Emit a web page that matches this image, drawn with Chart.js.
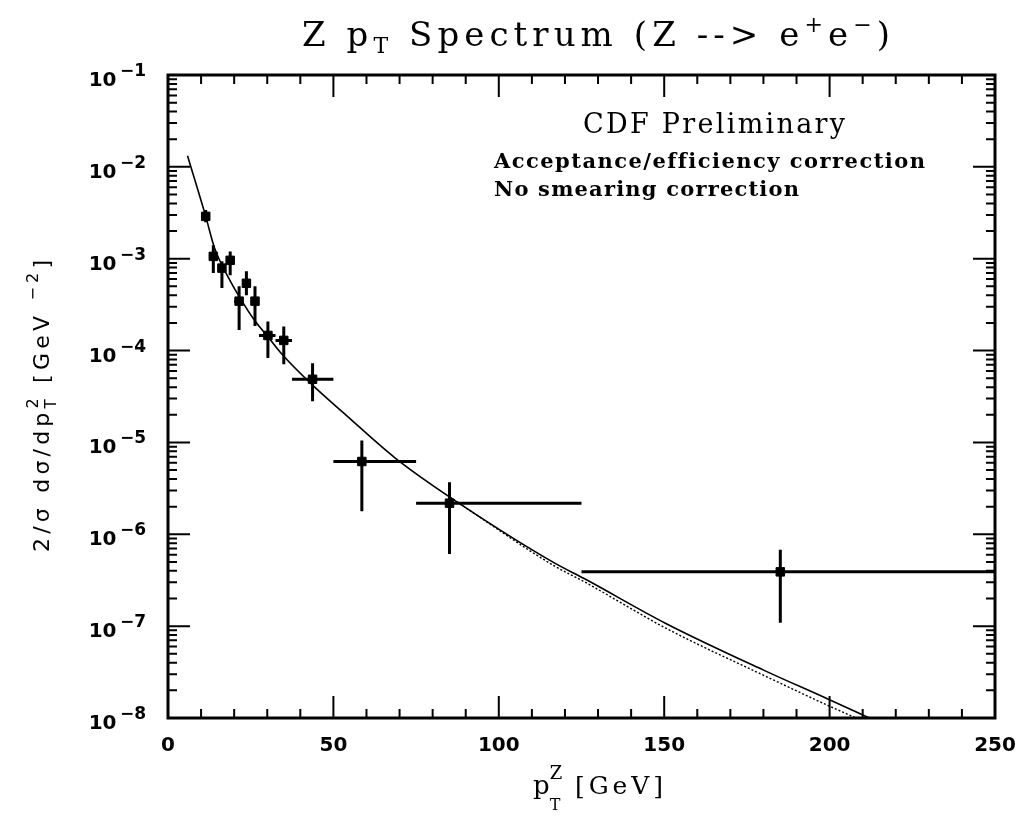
<!DOCTYPE html>
<html>
<head>
<meta charset="utf-8">
<script src="https://cdn.jsdelivr.net/npm/chart.js@4"></script>
<style>
  html, body { margin: 0; padding: 0; background: #fff; }
  #wrap { width: 1032px; height: 818px; }
</style>
</head>
<body>
<div id="wrap"><canvas id="chart" width="1032" height="818"></canvas></div>
<script>
// measured points: Z pT (GeV), bin edges and 2/sigma dsigma/dpT^2 with error range
const ptZ    = [11.4, 13.7, 16.3, 18.8, 21.5, 23.7, 26.3, 30.2, 35.0, 43.7, 58.6, 85.1, 185.1];
const binLo  = [10, 12.5, 15, 17.5, 20, 22.5, 25, 27.5, 32.5, 37.5, 50, 75, 125];
const binHi  = [12.5, 15, 17.5, 20, 22.5, 25, 27.5, 32.5, 37.5, 50, 75, 125, 250];
const xsec   = [2.89e-3, 1.06e-3, 7.9e-4, 9.6e-4, 3.45e-4, 5.4e-4, 3.45e-4, 1.46e-4, 1.29e-4, 4.87e-5, 6.2e-6, 2.18e-6, 3.9e-7];
const xsecUp = [3.4e-3, 1.40e-3, 9.4e-4, 1.20e-3, 5.0e-4, 7.3e-4, 5.0e-4, 2.07e-4, 1.83e-4, 7.3e-5, 1.05e-5, 3.69e-6, 6.8e-7];
const xsecDn = [2.5e-3, 7.0e-4, 4.8e-4, 6.6e-4, 1.67e-4, 4.0e-4, 1.85e-4, 8.3e-5, 7.1e-5, 2.81e-5, 1.78e-6, 6.1e-7, 1.09e-7];

// theory curve (solid) and the variant (dotted) that splits off at high pT
const fitPt  = [5.9, 11.4, 14.1, 18.4, 21.8, 26.1, 30.5, 34.6, 43.7, 53.9, 68.6, 85.2, 116.9, 125.8, 150.5, 180.2, 199.3, 212];
const fitVal = [1.32e-2, 2.89e-3, 1.30e-3, 6.1e-4, 3.72e-4, 2.15e-4, 1.37e-4, 9.0e-5, 4.2e-5, 1.97e-5, 6.8e-6, 2.54e-6, 4.85e-7, 3.30e-7, 1.07e-7, 3.3e-8, 1.62e-8, 1.0e-8];
const altPt  = [85.2, 116.9, 125.8, 150.5, 180.2, 199.3, 208];
const altVal = [2.54e-6, 4.5e-7, 3.05e-7, 9.5e-8, 2.9e-8, 1.38e-8, 1.0e-8];

const xTicks = [0, 50, 100, 150, 200, 250];
const yExp = [-1, -2, -3, -4, -5, -6, -7, -8];

const SERIF = '"DejaVu Serif"';
const SANS = '"DejaVu Sans"';

// draws a run of text pieces char by char; if target is given, spacing is spread so the run is that wide
function richText(ctx, segs, x, y, align, target) {
    const chars = [];
    for (const s of segs) {
        if (s.stack) { chars.push(s); continue; }
        for (const ch of s.t) chars.push({ t: ch, font: s.font, dy: s.dy || 0 });
    }
    const widths = chars.map(c => {
        ctx.font = c.font;
        let w = ctx.measureText(c.t).width;
        if (c.stack) { ctx.font = c.font2; w = Math.max(w, ctx.measureText(c.t2).width); }
        return w;
    });
    const natural = widths.reduce((a, b) => a + b, 0);
    const gap = target ? (target - natural) / (chars.length - 1) : 0;
    const total = natural + gap * (chars.length - 1);
    let cx = align === 'center' ? x - total / 2 : align === 'right' ? x - total : x;
    chars.forEach((c, i) => {
        ctx.font = c.font;
        ctx.fillText(c.t, cx, y + (c.dy || 0));
        if (c.stack) { ctx.font = c.font2; ctx.fillText(c.t2, cx, y + c.dy2); }
        cx += widths[i] + gap;
    });
}

const framePlugin = {
    id: 'frame',
    afterDatasetsDraw(chart) {
        const { ctx, chartArea: a, scales: { x, y } } = chart;
        ctx.save();
        ctx.strokeStyle = '#000';
        ctx.fillStyle = '#000';

        // error bars
        ctx.lineWidth = 3;
        ptZ.forEach((p, i) => {
            const px = x.getPixelForValue(p), py = y.getPixelForValue(xsec[i]);
            ctx.beginPath();
            ctx.moveTo(x.getPixelForValue(binLo[i]), py);
            ctx.lineTo(Math.min(x.getPixelForValue(binHi[i]), a.right), py);
            ctx.moveTo(px, y.getPixelForValue(xsecUp[i]));
            ctx.lineTo(px, y.getPixelForValue(xsecDn[i]));
            ctx.stroke();
        });

        // box
        ctx.lineWidth = 3;
        ctx.strokeRect(a.left, a.top, a.right - a.left, a.bottom - a.top);

        // inward ticks on all four sides
        ctx.lineWidth = 2;
        ctx.beginPath();
        for (let v = 0; v <= 250; v += 10) {
            const px = x.getPixelForValue(v), len = v % 50 === 0 ? 22 : 9;
            ctx.moveTo(px, a.bottom); ctx.lineTo(px, a.bottom - len);
            ctx.moveTo(px, a.top); ctx.lineTo(px, a.top + len);
        }
        for (const e of yExp) {
            for (let k = 1; k <= 9; k++) {
                const v = k * Math.pow(10, e);
                if (v > 0.10001) continue;
                const py = y.getPixelForValue(v), len = k === 1 ? 22 : 9;
                ctx.moveTo(a.left, py); ctx.lineTo(a.left + len, py);
                ctx.moveTo(a.right, py); ctx.lineTo(a.right - len, py);
            }
        }
        ctx.stroke();

        // tick labels
        ctx.textBaseline = 'alphabetic';
        for (const v of xTicks) {
            richText(ctx, [{ t: String(v), font: `bold 20px ${SANS}` }], x.getPixelForValue(v), a.bottom + 33, 'center');
        }
        for (const e of yExp) {
            const py = y.getPixelForValue(Math.pow(10, e));
            richText(ctx, [
                { t: '10', font: `bold 20px ${SANS}` },
                { t: '\u2009\u2212' + (-e), font: `bold 17px ${SANS}`, dy: -10 }
            ], a.left - 22, py + 11, 'right');
        }

        // title
        const big = `34px ${SERIF}`, small = `22px ${SERIF}`;
        richText(ctx, [
            { t: 'Z p', font: big },
            { t: 'T', font: small, dy: 7 },
            { t: ' Spectrum (Z --> e', font: big },
            { t: '+', font: small, dy: -14 },
            { t: 'e', font: big },
            { t: '\u2212', font: small, dy: -14 },
            { t: ')', font: big }
        ], 596, 46, 'center', 588);

        // annotations
        richText(ctx, [{ t: 'CDF Preliminary', font: `27px ${SERIF}` }], 583, 133, 'left', 262);
        richText(ctx, [{ t: 'Acceptance/efficiency correction', font: `bold 21px ${SERIF}` }], 494, 168, 'left', 431);
        richText(ctx, [{ t: 'No smearing correction', font: `bold 21px ${SERIF}` }], 494, 196, 'left', 305);

        // x axis title
        richText(ctx, [
            { t: 'p', font: `26px ${SERIF}` },
            { stack: true, t: 'Z', font: `18px ${SERIF}`, dy: -15, t2: 'T', font2: `16px ${SERIF}`, dy2: 16 }
        ], 533, 794, 'left');
        richText(ctx, [{ t: '[GeV]', font: `25px ${SERIF}` }], 575, 794, 'left', 88);

        // y axis title, rotated
        ctx.translate(49, 406);
        ctx.rotate(-Math.PI / 2);
        richText(ctx, [
            { t: '2/\u03c3 d\u03c3/dp', font: `22px ${SANS}` },
            { stack: true, t: '2', font: `16px ${SANS}`, dy: -11, t2: 'T', font2: `15px ${SANS}`, dy2: 7 },
            { t: ' [GeV ', font: `22px ${SANS}` },
            { t: '\u22122', font: `16px ${SANS}`, dy: -11 },
            { t: ']', font: `22px ${SANS}` }
        ], 0, 0, 'center', 292);
        ctx.restore();
    }
};

new Chart(document.getElementById('chart').getContext('2d'), {
    type: 'line',
    data: {
        datasets: [
            {
                label: 'theory',
                data: fitPt.map((p, i) => ({ x: p, y: fitVal[i] })),
                borderColor: '#000',
                borderWidth: 1.6,
                pointRadius: 0,
                cubicInterpolationMode: 'monotone',
                fill: false
            },
            {
                label: 'theory (variant)',
                data: altPt.map((p, i) => ({ x: p, y: altVal[i] })),
                borderColor: '#000',
                borderWidth: 1.4,
                borderDash: [2, 2],
                pointRadius: 0,
                cubicInterpolationMode: 'monotone',
                fill: false
            },
            {
                type: 'scatter',
                label: 'CDF data',
                data: ptZ.map((p, i) => ({ x: p, y: xsec[i] })),
                pointStyle: 'rect',
                pointRadius: 6,
                backgroundColor: '#000',
                borderColor: '#000',
                borderWidth: 1
            }
        ]
    },
    options: {
        responsive: false,
        animation: false,
        devicePixelRatio: 1,
        layout: { padding: { left: 168, top: 75, right: 37, bottom: 100 } },
        plugins: {
            legend: { display: false },
            tooltip: { enabled: false },
            title: { display: false }
        },
        scales: {
            x: { type: 'linear', min: 0, max: 250, display: false },
            y: { type: 'logarithmic', min: 1e-8, max: 1e-1, display: false }
        }
    },
    plugins: [framePlugin]
});
</script>
</body>
</html>
